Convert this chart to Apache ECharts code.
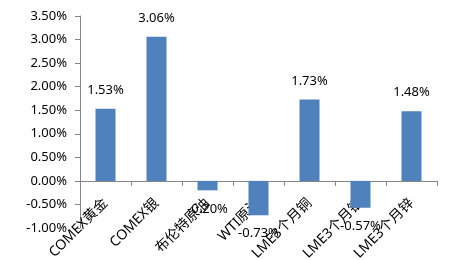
<!DOCTYPE html>
<html><head><meta charset="utf-8">
<script src="https://cdn.jsdelivr.net/npm/echarts@6/dist/echarts.min.js"></script>
<style>html,body{margin:0;padding:0;background:#fff}#c{width:462px;height:260px}</style>
</head><body><div id="c"></div>
<script>
const categories = ['COMEX黄金','COMEX银','布伦特原油','WTI原油','LME3个月铜','LME3个月铝','LME3个月锌'];
const values = [1.53, 3.06, -0.20, -0.73, 1.73, -0.57, 1.48];
const yTicks = {min: -1, max: 3.5, interval: 0.5};

const font = '"Noto Sans","Noto Sans CJK SC",sans-serif';
const chart = echarts.init(document.getElementById('c'), null, {renderer:'canvas'});
chart.setOption({
  animation: false,
  grid: {left: 80, right: 25, top: 16, bottom: 32, containLabel: false, outerBoundsMode: 'none'},
  xAxis: {
    type: 'category', data: categories,
    axisLine: {onZero: true, lineStyle: {color: '#868686'}},
    axisTick: {show: true, length: 5, lineStyle: {color: '#868686'}},
    axisLabel: {rotate: 45, color: '#000', fontSize: 14, fontFamily: font, margin: -27, interval: 0}
  },
  yAxis: {
    type: 'value', min: yTicks.min, max: yTicks.max, interval: yTicks.interval,
    splitLine: {show: false},
    axisLine: {show: true, lineStyle: {color: '#868686'}},
    axisTick: {show: true, length: 5, lineStyle: {color: '#868686'}},
    axisLabel: {color: '#000', fontSize: 13, fontFamily: font, margin: 13,
      formatter: v => v.toFixed(2) + '%'}
  },
  series: [{
    type: 'bar', barWidth: 20,
    data: values.map(v => ({value: v, label: {position: v >= 0 ? 'top' : 'bottom'}})),
    itemStyle: {color: '#4F81BD'},
    label: {show: true, distance: 12, color: '#000', fontSize: 13, fontFamily: font,
      formatter: p => p.value.toFixed(2) + '%'}
  }]
});
</script></body></html>
